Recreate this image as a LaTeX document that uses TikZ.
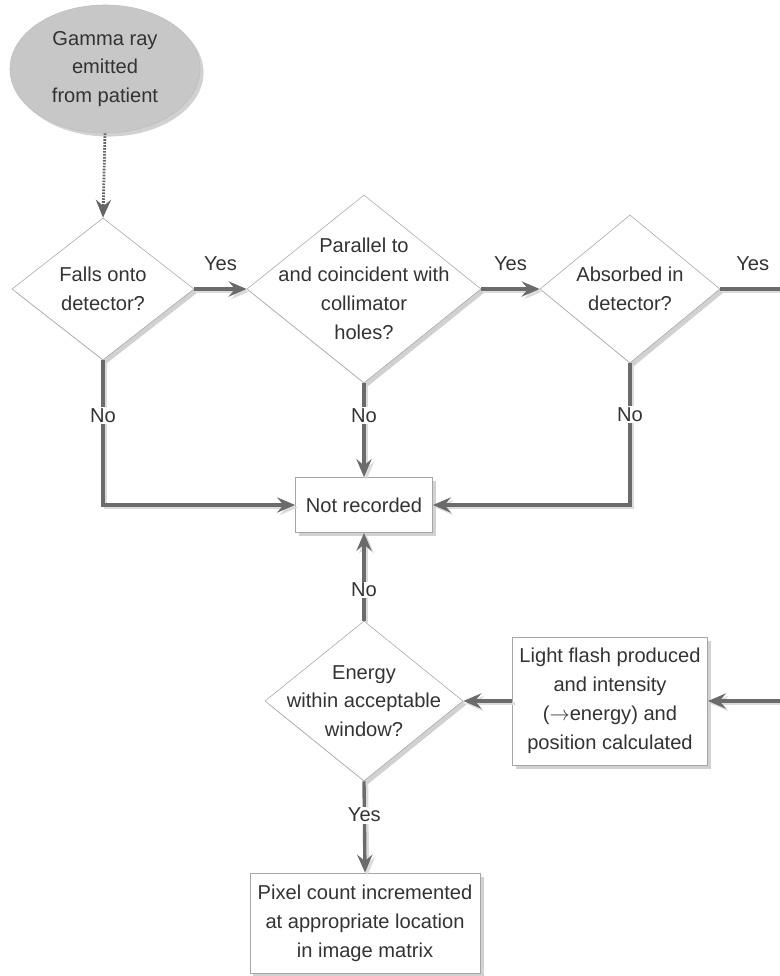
\documentclass[tikz,border=0pt]{standalone}
\usepackage{fontspec}
\setmainfont{Liberation Sans}
\usetikzlibrary{arrows.meta, shapes.geometric, shadows}

\begin{document}
\begin{tikzpicture}[
    x=0.025cm, y=-0.025cm,
    % Styles
    txt/.style={text=black!80, align=center, font=\fontsize{14.3}{20.5}\selectfont},
    shade/.style={drop shadow={shadow xshift=2.5pt, shadow yshift=-2.5pt, fill=black!18, opacity=1}},
    start_node/.style={ellipse, fill=black!22, draw=black!26, thin, minimum width=4.75cm, minimum height=3.2cm, shade, txt},
    decision/.style={diamond, draw=black!35, fill=white, inner sep=0pt, shade},
    step_box/.style={rectangle, draw=black!35, fill=white, shade, txt},
    flow/.style={-{Stealth[length=4.5mm, width=3.8mm, inset=1.6mm]}, line width=2.4pt, draw=black!58,
        preaction={draw=black!14, line width=2.4pt, transform canvas={shift={(1.8pt,-1.8pt)}}}},
    dotted_flow/.style={-{Stealth[length=4.5mm, width=3.8mm, inset=1.6mm]}, line width=2pt, draw=black!60, dash pattern=on 1.2pt off 0.9pt},
    answer/.style={txt, fill=white, inner sep=1pt}
]
    \useasboundingbox (0,0) rectangle (779,976);

    % 1. SOURCE
    \node[start_node] (gamma) at (105,69) {Gamma ray\\emitted\\from patient};

    % 2. DECISIONS ALONG THE TOP ROW
    \node[decision, minimum width=4.55cm, minimum height=3.55cm,
        label={[txt]center:{Falls onto\\detector?}}] (falls) at (103,289) {};
    \node[decision, minimum width=5.85cm, minimum height=4.7cm,
        label={[txt]center:{Parallel to\\and coincident with\\collimator\\holes?}}] (parallel) at (364,289) {};
    \node[decision, minimum width=4.5cm, minimum height=3.7cm,
        label={[txt]center:{Absorbed in\\detector?}}] (absorbed) at (630,289) {};

    % 3. BOXES
    \node[step_box, minimum width=3.43cm, minimum height=1.38cm] (lost) at (364,505) {Not recorded};
    \node[step_box, minimum width=4.88cm, minimum height=3.2cm] (flash) at (610,701)
        {Light flash produced\\and intensity\\(\(\rightarrow\)energy) and\\position calculated};
    \node[decision, minimum width=4.95cm, minimum height=4cm,
        label={[txt]center:{Energy\\within acceptable\\window?}}] (energy) at (364,701) {};
    \node[step_box, minimum width=5.75cm, minimum height=2.5cm] (pixel) at (365,923)
        {Pixel count incremented\\at appropriate location\\in image matrix};

    % 4. ARROWS
    \draw[dotted_flow] (gamma.south) -- (falls.north);

    \draw[flow] (falls.east) -- node[answer, above=11pt] {Yes} (parallel.west);
    \draw[flow] (parallel.east) -- node[answer, above=11pt] {Yes} (absorbed.west);
    % off the page on the right and back into the flash box
    \draw[flow] (absorbed.east) -- node[answer, above=11pt, pos=0.36] {Yes} ++(90,0) |- (flash.east);

    % No branches into Not recorded
    \draw[flow] (falls.south) |- node[answer, pos=0.19] {No} (lost.west);
    \draw[flow] (parallel.south) -- node[answer, pos=0.34] {No} (lost.north);
    \draw[flow] (absorbed.south) |- node[answer, pos=0.18] {No} (lost.east);

    \draw[flow] (flash.west) -- (energy.east);
    \draw[flow] (energy.north) -- node[answer, pos=0.35] {No} (lost.south);
    \draw[flow] (energy.south) -- node[answer, pos=0.37] {Yes} (pixel.north);

\end{tikzpicture}
\end{document}
